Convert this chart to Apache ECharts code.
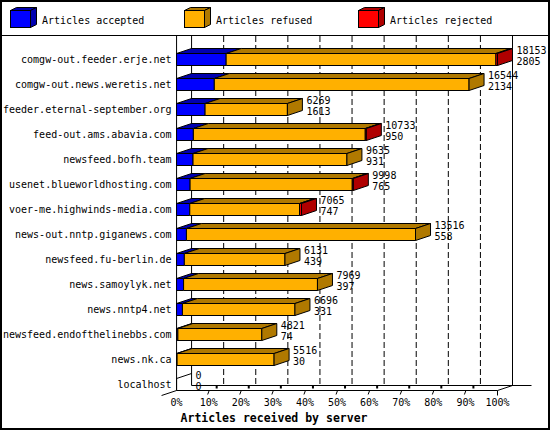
<!DOCTYPE html>
<html>
<head>
<meta charset="utf-8">
<title>Articles received by server</title>
<script src="https://cdn.jsdelivr.net/npm/echarts@6.0.0/dist/echarts.min.js"></script>
<style>
  html, body { margin: 0; padding: 0; background: #fff; }
  #chart { width: 550px; height: 430px; }
</style>
</head>
<body>
<div id="chart"></div>
<script>
// feeds, top to bottom
var hosts = [
  'comgw-out.feeder.erje.net',
  'comgw-out.news.weretis.net',
  'feeder.eternal-september.org',
  'feed-out.ams.abavia.com',
  'newsfeed.bofh.team',
  'usenet.blueworldhosting.com',
  'voer-me.highwinds-media.com',
  'news-out.nntp.giganews.com',
  'newsfeed.fu-berlin.de',
  'news.samoylyk.net',
  'news.nntp4.net',
  'newsfeed.endofthelinebbs.com',
  'news.nk.ca',
  'localhost'
]
var accepted = [2805, 2134, 1613, 950, 931, 765, 747, 558, 439, 397, 331, 74, 30, 0]
var refused = [15258, 14410, 4656, 9723, 8704, 9173, 6208, 12958, 5692, 7572, 6365, 4747, 5486, 0]
var rejected = [90, 0, 0, 60, 0, 60, 110, 0, 0, 0, 0, 0, 0, 0]

var seriesNames = ['Articles accepted', 'Articles refused', 'Articles rejected']
var faceColors = ['#0000ff', '#ffb000', '#ff0000']
var shadeColors = ['#0000b0', '#b07900', '#b00000']

// 3d depth of the bars and half height of the front face
var DX = 15
var DY = 5
var HH = 6
var FONT = 'DejaVu Sans Mono'

var totals = hosts.map(function (h, i) {
  return accepted[i] + refused[i] + rejected[i]
})
var maxTotal = Math.max.apply(null, totals)

function pieces(i) {
  return [accepted[i], refused[i], rejected[i]]
}

// [startPct, category, endPct, isRightmostPiece]
function segmentData(k) {
  return hosts.map(function (h, i) {
    var s = pieces(i)
    var start = 0
    for (var j = 0; j < k; j++) start += s[j]
    var end = start + s[k]
    var last = s[k] > 0 && s.slice(k + 1).every(function (v) { return v === 0 })
    return [start / maxTotal * 100, i, end / maxTotal * 100, last ? 1 : 0]
  })
}

function line(x1, y1, x2, y2, dash) {
  return {
    type: 'line',
    shape: { x1: x1, y1: y1, x2: x2, y2: y2 },
    style: { stroke: '#000', lineWidth: 1, lineDash: dash || null }
  }
}

function renderSegment(k) {
  return function (params, api) {
    var i = api.value(1)
    var a = api.coord([api.value(0), i])
    var b = api.coord([api.value(2), i])
    var x0 = a[0]
    var x1 = b[0]
    var yt = a[1] - HH
    var yb = a[1] + HH
    if (x1 - x0 < 0.01) {
      // empty bar, only its outline is left
      if (k === 0 && totals[i] === 0) {
        return {
          type: 'polyline',
          shape: { points: [[x0, yb], [x0, yt], [x0 + DX, yt - DY]] },
          style: { stroke: '#000', fill: null, lineWidth: 1 }
        }
      }
      return null
    }
    var children = [
      {
        type: 'polygon',
        shape: { points: [[x0, yt], [x0 + DX, yt - DY], [x1 + DX, yt - DY], [x1, yt]] },
        style: { fill: shadeColors[k], stroke: '#000', lineWidth: 1 }
      },
      {
        type: 'rect',
        shape: { x: x0, y: yt, width: x1 - x0, height: yb - yt },
        style: { fill: faceColors[k], stroke: '#000', lineWidth: 1 }
      }
    ]
    if (api.value(3)) {
      children.push({
        type: 'polygon',
        shape: { points: [[x1, yt], [x1 + DX, yt - DY], [x1 + DX, yb - DY], [x1, yb]] },
        style: { fill: shadeColors[k], stroke: '#000', lineWidth: 1 }
      })
    }
    return { type: 'group', children: children }
  }
}

function renderLabels(params, api) {
  var p = api.coord([api.value(0), api.value(1)])
  var x = p[0] + DX + 4
  var yt = p[1] - HH
  var st = { fill: '#000', font: '10px "' + FONT + '"', textAlign: 'left', textVerticalAlign: 'middle', align: 'left', verticalAlign: 'middle' }
  return {
    type: 'group',
    children: [
      { type: 'text', x: x, y: yt - 3, style: Object.assign({ text: String(api.value(2)) }, st) },
      { type: 'text', x: x, y: yt + 8, style: Object.assign({ text: String(api.value(3)) }, st) }
    ]
  }
}

// walls and floor of the 3d box
function renderFrame(params, api) {
  var cs = params.coordSys
  var x0 = api.coord([0, 0])[0]
  var x100 = api.coord([100, 0])[0]
  var floorF = api.coord([0, hosts.length - 1])[1] + HH
  var floorB = floorF - DY
  var top = cs.y - 11
  var c = [
    line(x0, top, x0, floorF),
    line(x0 + DX, top, x0 + DX, floorB),
    line(x100 + DX, top, x100 + DX, floorB),
    line(x0 + DX, floorB, x100 + DX + 19, floorB),
    line(x0, floorF, x100, floorF),
    line(x100, floorF, x100 + DX, floorB),
    line(x0 - DX, floorF + DY, x0, floorF)
  ]
  for (var k = 1; k <= 10; k++) {
    var x = api.coord([k * 10, 0])[0]
    if (k < 10) {
      c.push(line(x + DX, top, x + DX, floorB, [6, 3]))
      c.push(line(x - 1, floorF + 4, x + 0.5, floorF))
      c.push({
        type: 'rect',
        shape: { x: x + 7, y: floorB, width: 2, height: 3 },
        style: { fill: '#000' }
      })
    } else {
      c.push(line(x, floorF, x, floorF + 5))
    }
  }
  return { type: 'group', children: c }
}

// legend box, with empty room below so the text lines up lower
function boxIcon(k) {
  var svg = '<svg xmlns="http://www.w3.org/2000/svg" width="27" height="26" viewBox="0 0 27 26">' +
    '<polygon points="0.5,3.5 6.5,0.5 26.5,0.5 20.5,3.5" fill="' + shadeColors[k] + '" stroke="#000"/>' +
    '<polygon points="20.5,3.5 26.5,0.5 26.5,17.5 20.5,20.5" fill="' + shadeColors[k] + '" stroke="#000"/>' +
    '<rect x="0.5" y="3.5" width="20" height="17" fill="' + faceColors[k] + '" stroke="#000"/>' +
    '</svg>'
  return 'image://data:image/svg+xml;charset=utf-8,' + encodeURIComponent(svg)
}

var legendLeft = [10, 184, 358]

var series = seriesNames.map(function (name, k) {
  return {
    name: name,
    type: 'custom',
    renderItem: renderSegment(k),
    encode: { x: [0, 2], y: 1 },
    data: segmentData(k),
    itemStyle: { color: faceColors[k] },
    z: 3
  }
})
series.push({
  type: 'custom',
  renderItem: renderLabels,
  encode: { x: 0, y: 1 },
  data: hosts.map(function (h, i) {
    return [totals[i] / maxTotal * 100, i, totals[i], accepted[i]]
  }),
  silent: true,
  z: 4
})
series.push({
  type: 'custom',
  renderItem: renderFrame,
  encode: { x: 0, y: 1 },
  data: [[0, 0]],
  silent: true,
  z: 1
})

var option = {
  animation: false,
  backgroundColor: '#fff',
  legend: seriesNames.map(function (name, k) {
    return {
      data: [name],
      left: legendLeft[k],
      top: 7,
      padding: 0,
      itemWidth: 27,
      itemHeight: 26,
      icon: boxIcon(k),
      selectedMode: false,
      textStyle: { fontFamily: FONT, fontSize: 10, color: '#000' }
    }
  }),
  grid: { left: 176.5, right: 52.5, top: 47, bottom: 33 },
  xAxis: {
    type: 'value',
    min: 0,
    max: 100,
    interval: 10,
    axisLine: { show: false },
    axisTick: { show: false },
    splitLine: { show: false },
    axisLabel: { formatter: '{value}%', margin: 0, color: '#000', fontFamily: FONT, fontSize: 10 },
    name: 'Articles received by server',
    nameLocation: 'middle',
    nameGap: 12,
    nameTextStyle: { fontFamily: FONT, fontSize: 11.5, fontWeight: 'bold', color: '#000', padding: [0, 126, 0, 0] }
  },
  yAxis: {
    type: 'category',
    data: hosts,
    inverse: true,
    axisLine: { show: false },
    axisTick: { show: false },
    splitLine: { show: false },
    axisLabel: { interval: 0, margin: 5, color: '#000', fontFamily: FONT, fontSize: 10 }
  },
  graphic: [
    { type: 'rect', shape: { x: 1, y: 1, width: 548, height: 428 }, style: { fill: 'transparent', stroke: '#000', lineWidth: 2 }, silent: true, z: 10 },
    { type: 'line', shape: { x1: 0, y1: 35.5, x2: 550, y2: 35.5 }, style: { stroke: '#000', lineWidth: 1 }, silent: true }
  ],
  series: series
}

var chart = echarts.init(document.getElementById('chart'), null, { renderer: 'svg' })
chart.setOption(option)
window.addEventListener('resize', function () {
  chart.resize()
})
</script>
</body>
</html>
